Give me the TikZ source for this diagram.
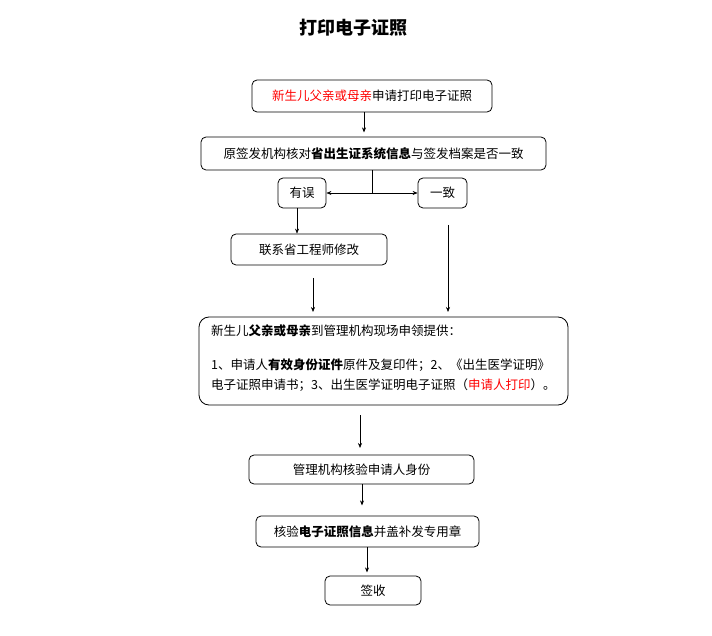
\documentclass[tikz,border=0pt]{standalone}
\usepackage{fontspec}
\setmainfont{Noto Sans CJK SC}
\usetikzlibrary{arrows.meta}
\begin{document}
\begin{tikzpicture}[x=1pt,y=-1pt,
  bx/.style={draw,rounded corners=5pt,line width=0.8pt,font=\fontsize{12.5}{15}\selectfont,inner sep=0pt},
  ar/.style={-{Stealth[length=5pt,width=4pt]},line width=0.6pt}]
\useasboundingbox (0,0) rectangle (712,636);
\node[font=\fontsize{18}{20}\selectfont\bfseries] (t) at (353,28) {打印电子证照};
\node[bx,minimum width=240pt,minimum height=32pt] (b1) at (372,96) {\textcolor{red}{新生儿父亲或母亲}申请打印电子证照};
\node[bx,minimum width=345pt,minimum height=33pt] (b2) at (373.5,153.5) {原签发机构核对\textbf{省出生证系统信息}与签发档案是否一致};
\node[bx,minimum width=48pt,minimum height=30pt] (e) at (302,193) {有误};
\node[bx,minimum width=49pt,minimum height=30pt] (ok) at (442.5,193) {一致};
\node[bx,minimum width=156pt,minimum height=31pt] (fix) at (309,249.5) {联系省工程师修改};
\node[bx,rounded corners=10pt,minimum width=369pt,minimum height=88pt] (big) at (383.5,361) {};
\node[font=\fontsize{12.5}{20}\selectfont,anchor=north west,align=left,inner sep=0pt] (bt) at (211,325)
 {新生儿\textbf{父亲或母亲}到管理机构现场申领提供：\\[14pt]
 1、申请人\textbf{有效身份证件}原件及复印件；2、《出生医学证明》\\
 电子证照申请书；3、出生医学证明电子证照（\textcolor{red}{申请人打印}）。};
\node[bx,minimum width=225pt,minimum height=29pt] (v) at (361.5,469.5) {管理机构核验申请人身份};
\node[bx,minimum width=223pt,minimum height=31pt] (s) at (367.5,531.5) {核验\textbf{电子证照信息}并盖补发专用章};
\node[bx,minimum width=96pt,minimum height=29pt] (q) at (373,590.5) {签收};
\coordinate (j) at (372,193);
\draw[ar] (b1.south -| 364,0) -- ++(0,20);
\draw[line width=0.6pt] (b2.south -| j) -- (j);
\draw[ar] (j) -- (e.east);
\draw[ar] (j) -- (ok.west);
\draw[ar] (e.south -| 297,0) -- (fix.north -| 297,0);
\draw[ar] (448,225) -- (448,312);
\draw[ar] (313,278) -- (313,312);
\draw[ar] (360,415) -- (360,448);
\draw[ar] (v.south -| 362,0) -- ++(0,21);
\draw[ar] (s.south -| 367,0) -- ++(0,25);
\end{tikzpicture}
\end{document}
